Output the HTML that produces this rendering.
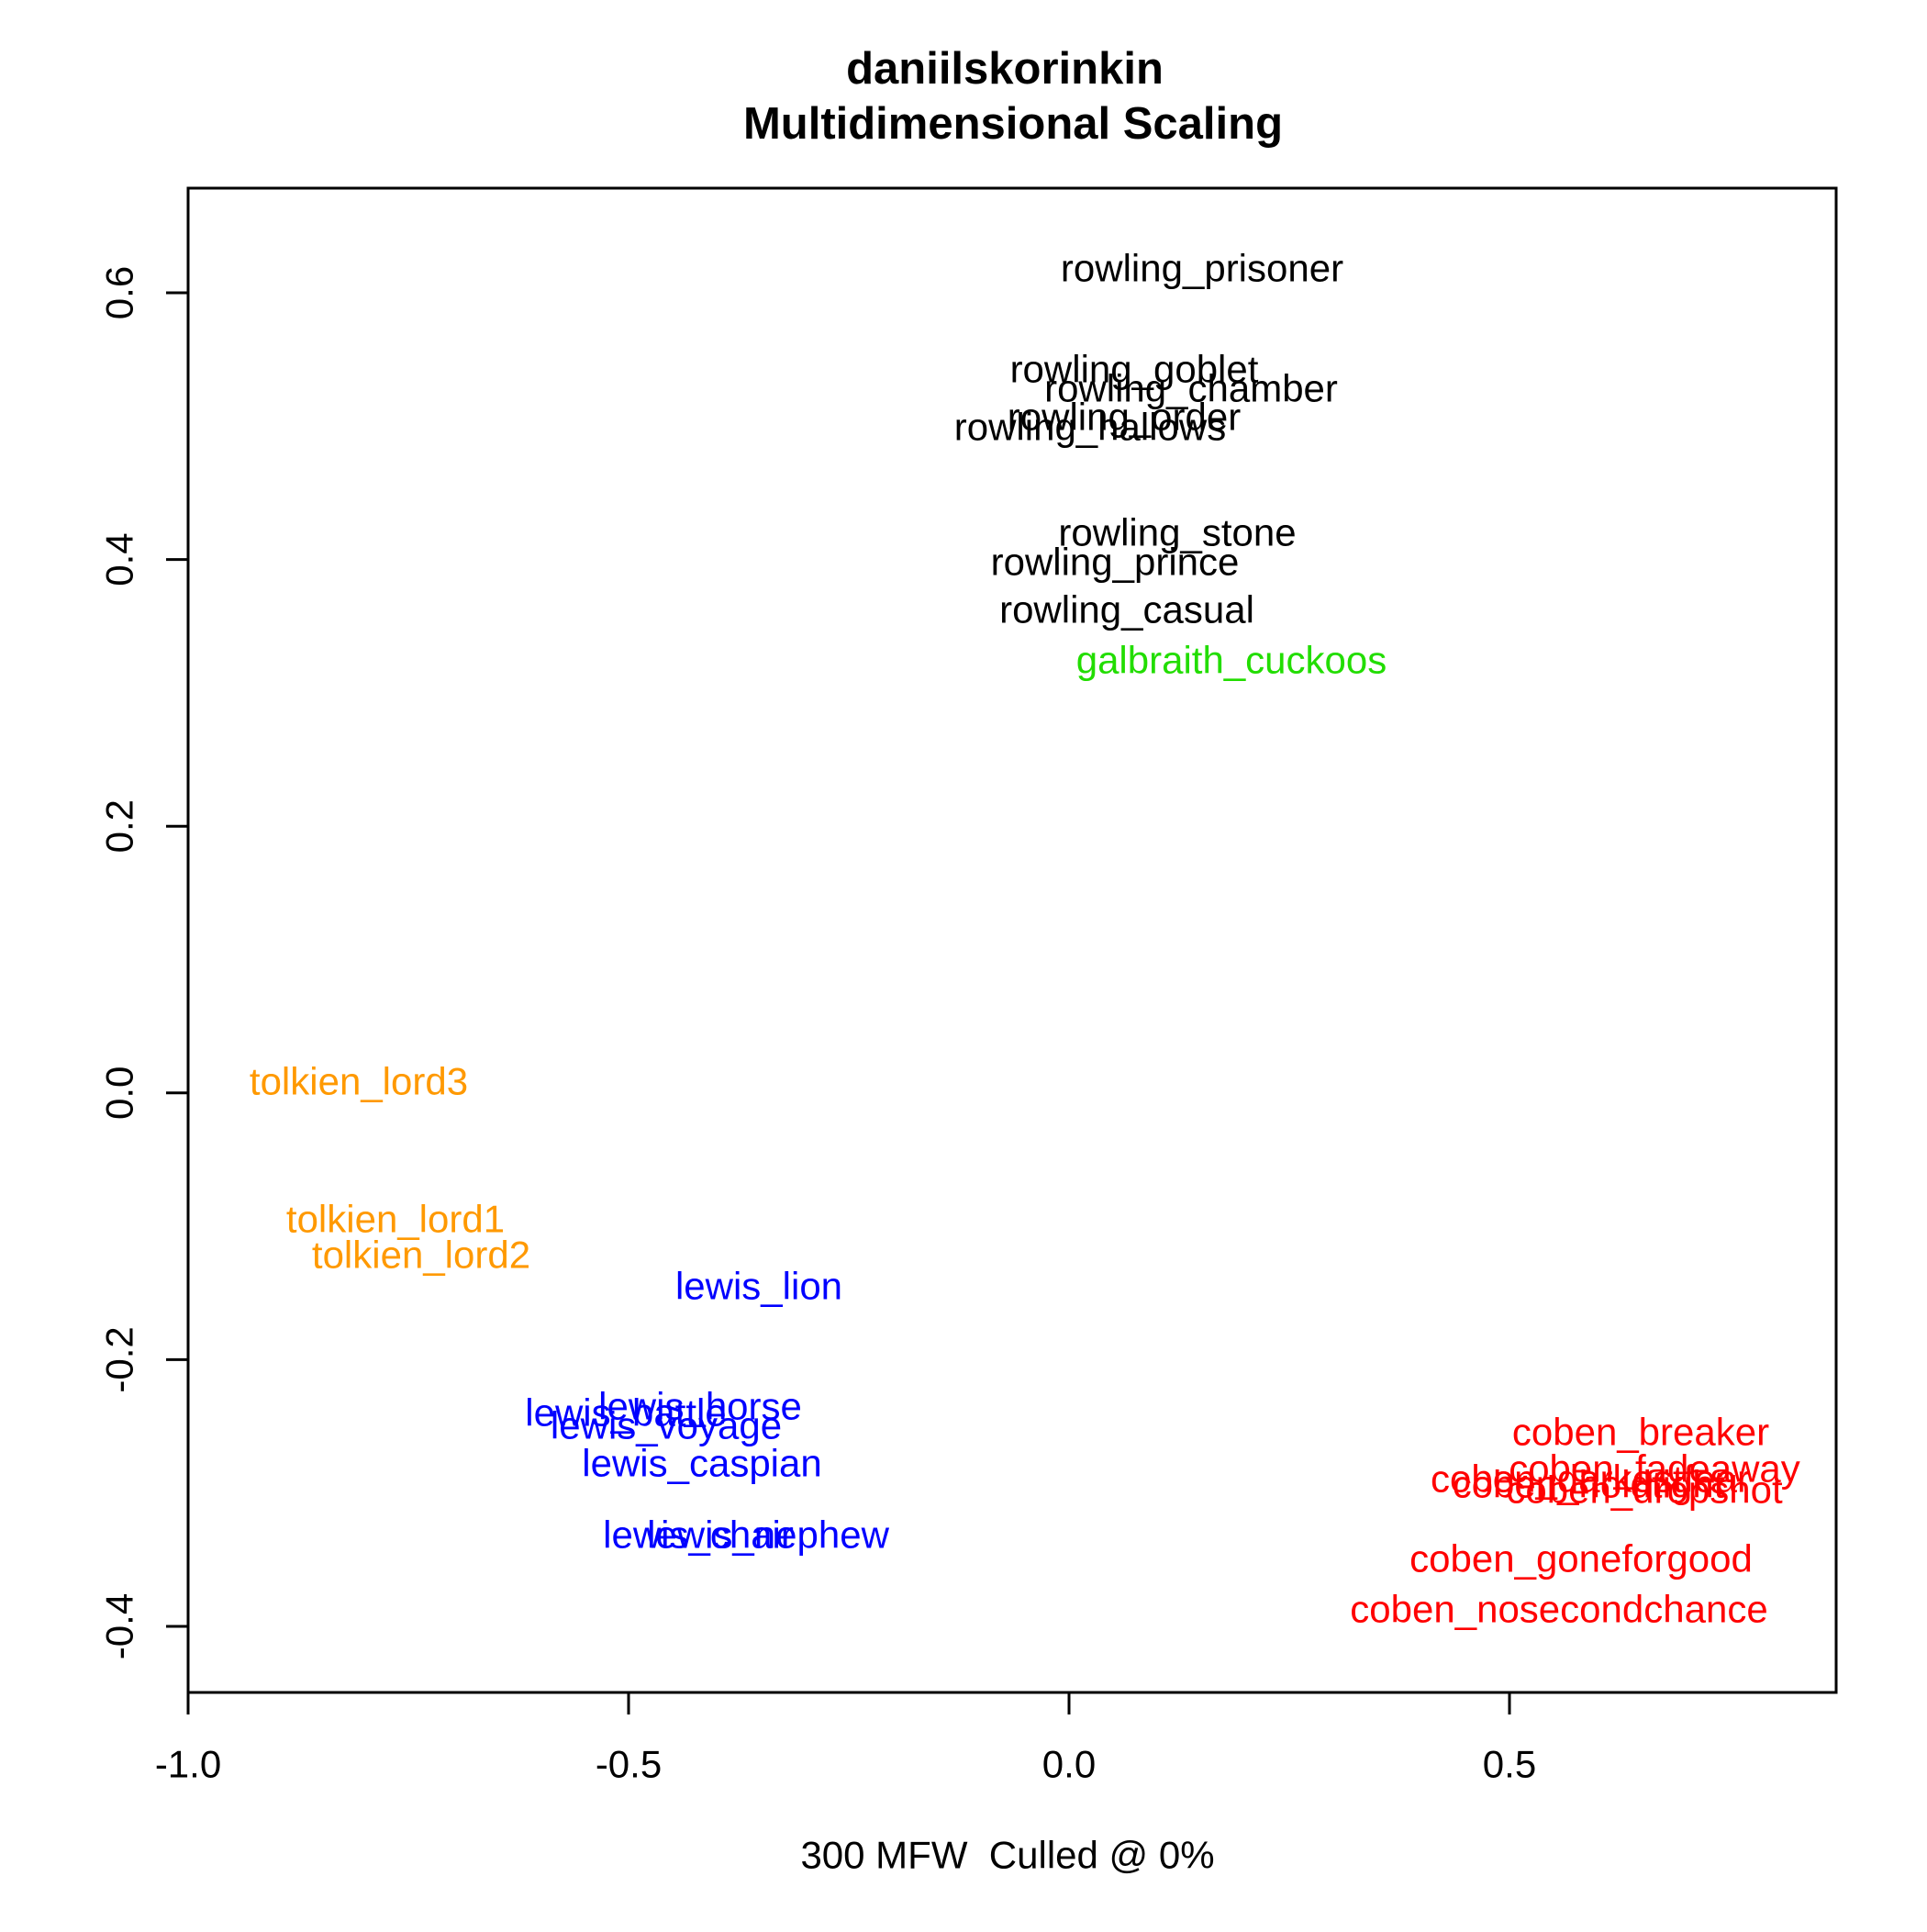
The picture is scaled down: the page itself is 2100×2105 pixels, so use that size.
<!DOCTYPE html>
<html><head><meta charset="utf-8"><style>html,body{margin:0;padding:0;background:#fff}</style></head>
<body>
<svg width="2100" height="2100" viewBox="0 0 2100 2100" xmlns="http://www.w3.org/2000/svg" font-family="Liberation Sans, Arial, sans-serif">
<rect width="2100" height="2100" fill="#fff"/>
<text x="1095" y="75" font-size="49" font-weight="bold" text-anchor="middle" dominant-baseline="central">daniilskorinkin</text>
<text x="1104" y="135" font-size="49" font-weight="bold" text-anchor="middle" dominant-baseline="central">Multidimensional Scaling</text>
<rect x="205" y="205" width="1796" height="1639" fill="none" stroke="#000" stroke-width="3"/>
<g stroke="#000" stroke-width="3">
<line x1="205" y1="1844" x2="1645" y2="1844"/>
<line x1="205" y1="1844" x2="205" y2="1868"/>
<line x1="685" y1="1844" x2="685" y2="1868"/>
<line x1="1165" y1="1844" x2="1165" y2="1868"/>
<line x1="1645" y1="1844" x2="1645" y2="1868"/>
<line x1="205" y1="319" x2="205" y2="1772"/>
<line x1="181" y1="319" x2="205" y2="319"/>
<line x1="181" y1="609.6" x2="205" y2="609.6"/>
<line x1="181" y1="900.2" x2="205" y2="900.2"/>
<line x1="181" y1="1190.8" x2="205" y2="1190.8"/>
<line x1="181" y1="1481.4" x2="205" y2="1481.4"/>
<line x1="181" y1="1772" x2="205" y2="1772"/>
</g>
<g font-size="42" text-anchor="middle" dominant-baseline="central">
<text x="205" y="1922">-1.0</text>
<text x="685" y="1922">-0.5</text>
<text x="1165" y="1922">0.0</text>
<text x="1645" y="1922">0.5</text>
<text transform="translate(130,319) rotate(-90)">0.6</text>
<text transform="translate(130,609.6) rotate(-90)">0.4</text>
<text transform="translate(130,900.2) rotate(-90)">0.2</text>
<text transform="translate(130,1190.8) rotate(-90)">0.0</text>
<text transform="translate(130,1481.4) rotate(-90)">-0.2</text>
<text transform="translate(130,1772) rotate(-90)">-0.4</text>
<text x="1098" y="2021">300 MFW &#160;Culled @ 0%</text>
</g>
<g font-size="42" text-anchor="middle" dominant-baseline="central">
<g fill="#000">
<text x="1310" y="292">rowling_prisoner</text>
<text x="1236" y="402">rowling_goblet</text>
<text x="1298" y="423">rowling_chamber</text>
<text x="1225" y="454">rowling_order</text>
<text x="1188" y="465">rowling_hallows</text>
<text x="1283" y="580">rowling_stone</text>
<text x="1215" y="612">rowling_prince</text>
<text x="1228" y="664">rowling_casual</text>
</g>
<text x="1342" y="719" fill="#22dd00">galbraith_cuckoos</text>
<g fill="#ff9900">
<text x="391" y="1178">tolkien_lord3</text>
<text x="431" y="1328">tolkien_lord1</text>
<text x="459" y="1367">tolkien_lord2</text>
</g>
<g fill="#0000ff">
<text x="827" y="1401">lewis_lion</text>
<text x="763" y="1532">lewis_horse</text>
<text x="682" y="1539">lewis_battle</text>
<text x="726" y="1553">lewis_voyage</text>
<text x="765" y="1594">lewis_caspian</text>
<text x="761" y="1672">lewis_chair</text>
<text x="837" y="1672">lewis_nephew</text>
</g>
<g fill="#ff0000">
<text x="1788" y="1560">coben_breaker</text>
<text x="1803" y="1600">coben_fadeaway</text>
<text x="1733" y="1611">coben_darkestfear</text>
<text x="1731" y="1617">coben_holdtight</text>
<text x="1792" y="1623">coben_dropshot</text>
<text x="1723" y="1698">coben_goneforgood</text>
<text x="1699" y="1753">coben_nosecondchance</text>
</g>
</g>
</svg>
</body></html>
